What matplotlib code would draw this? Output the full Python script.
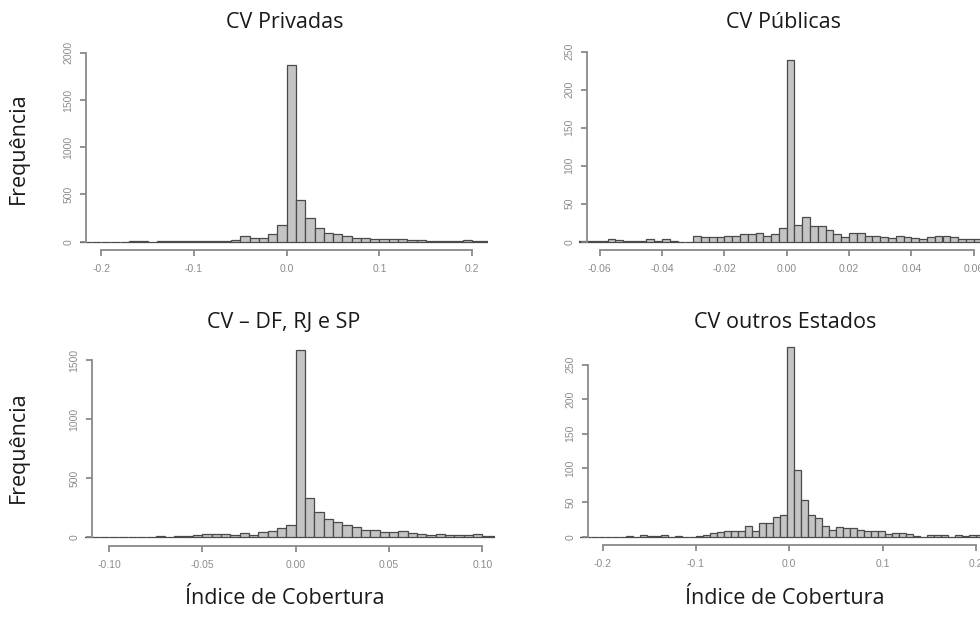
import numpy as np
import matplotlib
matplotlib.use("Agg")
import matplotlib.pyplot as plt

# ---------------- data ----------------
titles = ["CV Privadas", "CV Públicas", "CV – DF, RJ e SP", "CV outros Estados"]
ylabel = "Frequência"
xlabel = "Índice de Cobertura"

# CV Privadas: bins of width 0.01, first left edge -0.23
priv_start, priv_width = -0.23, 0.01
priv_counts = [0, 0, 0, 0, 0, 0, 5, 5, 0, 3, 3, 3, 5, 10, 5, 8, 12, 20, 60, 42, 39, 85,
               173, 1870, 441, 254, 141, 95, 85, 60, 39, 39, 32, 32, 30, 25, 22, 18, 12,
               10, 10, 8, 14, 5, 4]

# CV Públicas: bins of width 0.0025, first left edge -0.0675
pub_start, pub_width = -0.0675, 0.0025
pub_counts = [1, 1, 1, 1, 3, 2, 1, 1, 1, 3, 1, 4, 1, 0, 0, 7, 6, 6, 6, 7, 7, 10, 10, 11,
              8, 10, 18, 239, 22, 33, 21, 21, 15, 10, 6, 11, 11, 7, 8, 6, 5, 8, 6, 5, 3,
              6, 7, 7, 6, 3, 4, 3, 2]

# CV – DF, RJ e SP: bins of width 0.005, first left edge -0.115
dfrs_start, dfrs_width = -0.115, 0.005
dfrs_counts = [0, 0, 1, 1, 2, 3, 5, 5, 8, 5, 8, 14, 17, 31, 25, 25, 17, 33, 17, 47, 53,
               81, 103, 1585, 335, 215, 151, 131, 103, 84, 61, 61, 47, 47, 50, 33, 28, 22,
               31, 17, 17, 20, 28, 14, 15]

# CV outros Estados: bins of width 0.0075, first left edge -0.2275
out_start, out_width = -0.2275, 0.0075
out_counts = [0, 0, 0, 0, 0, 0, 0, 1, 0, 2, 1, 1, 2, 0, 1, 0, 0, 1, 2, 6, 7, 8, 8, 8, 16,
              9, 20, 20, 29, 32, 276, 97, 53, 32, 27, 16, 10, 14, 13, 12, 10, 9, 9, 8, 4,
              5, 6, 4, 1, 0, 2, 2, 2, 0, 2, 1, 2, 2, 1, 1]

xticks = [
    ([-0.2, -0.1, 0.0, 0.1, 0.2], ["-0.2", "-0.1", "0.0", "0.1", "0.2"]),
    ([-0.06, -0.04, -0.02, 0.0, 0.02, 0.04, 0.06], ["-0.06", "-0.04", "-0.02", "0.00", "0.02", "0.04", "0.06"]),
    ([-0.10, -0.05, 0.0, 0.05, 0.10], ["-0.10", "-0.05", "0.00", "0.05", "0.10"]),
    ([-0.2, -0.1, 0.0, 0.1, 0.2], ["-0.2", "-0.1", "0.0", "0.1", "0.2"]),
]
yticks = [
    [0, 500, 1000, 1500, 2000],
    [0, 50, 100, 150, 200, 250],
    [0, 500, 1000, 1500],
    [0, 50, 100, 150, 200, 250],
]

# ---------------- layout (pixel based) ----------------
W, H = 980, 630
fig = plt.figure(figsize=(W / 100, H / 100), dpi=100)

# x pixel of 0, px per unit, xlim, y pixel of 0, px per unit, ytop, yaxis pixel x, xaxis pixel y
layout = [
    (286.7, 927.5, (-0.2226, 0.217), 241.7, 0.0945, 2050, 85.7, 250.0),
    (786.7, 3116.0, (-0.0665, 0.0665), 241.7, 0.760, 262, 586.7, 250.0),
    (295.7, 1867.0, (-0.1129, 0.1067), 537.3, 0.1182, 1620, 91.7, 546.0),
    (789.3, 933.0, (-0.2245, 0.2245), 536.7, 0.688, 286, 587.7, 545.0),
]
data = [
    (priv_start, priv_width, priv_counts),
    (pub_start, pub_width, pub_counts),
    (dfrs_start, dfrs_width, dfrs_counts),
    (out_start, out_width, out_counts),
]

axis_col = "#8a8a8a"
tick_col = "#808080"
bar_face = "#c4c4c4"
bar_edge = "#4a4a4a"
pad_px = 3.0  # a little room below zero so the zero-height bars show as baseline

for i in range(4):
    x0, xs, xlim, y0, ys, ytop, yax_px, xax_px = layout[i]
    left = x0 + xlim[0] * xs
    right = x0 + xlim[1] * xs
    top = y0 - ytop * ys
    bottom = y0 + pad_px
    ybot = -pad_px / ys
    ax = fig.add_axes([left / W, 1 - bottom / H, (right - left) / W, (bottom - top) / H])
    start, width, counts = data[i]
    edges = start + width * np.arange(len(counts))
    ax.bar(edges, counts, width=width, align="edge", color=bar_face,
           edgecolor=bar_edge, linewidth=0.9, clip_on=True)
    ax.set_xlim(*xlim)
    ax.set_ylim(ybot, ytop)
    ax.patch.set_visible(False)
    for s in ["top", "right"]:
        ax.spines[s].set_visible(False)
    ax.spines["left"].set_position(("data", (yax_px - x0) / xs))
    ax.spines["left"].set_bounds(yticks[i][0], yticks[i][-1])
    ax.spines["bottom"].set_position(("outward", (xax_px - bottom) * 0.72))
    ax.spines["bottom"].set_bounds(xticks[i][0][0], xticks[i][0][-1])
    for s in ["left", "bottom"]:
        ax.spines[s].set_color(axis_col)
        ax.spines[s].set_linewidth(1.3)
    ax.set_xticks(xticks[i][0])
    ax.set_xticklabels(xticks[i][1])
    ax.set_yticks(yticks[i])
    ax.set_yticklabels([str(v) for v in yticks[i]], rotation=90, va="center")
    ax.tick_params(axis="both", colors=tick_col, labelcolor="#8c8c8c", labelsize=7.5,
                   length=4, width=1.2, direction="out")
    ax.tick_params(axis="x", pad=6)
    ax.tick_params(axis="y", pad=5)
    for lab in ax.get_xticklabels() + ax.get_yticklabels():
        lab.set_family("Liberation Sans")

title_font = dict(family="Open Sans", fontsize=15.5, color="#1a1a1a")
fig.text(285 / W, 1 - 22 / H, titles[0], ha="center", va="center", **title_font)
fig.text(783 / W, 1 - 22 / H, titles[1], ha="center", va="center", **title_font)
fig.text(284 / W, 1 - 322 / H, titles[2], ha="center", va="center", **title_font)
fig.text(785 / W, 1 - 322 / H, titles[3], ha="center", va="center", **title_font)
fig.text(18 / W, 1 - 148 / H, ylabel, rotation=90, ha="center", va="center", **title_font)
fig.text(18 / W, 1 - 447 / H, ylabel, rotation=90, ha="center", va="center", **title_font)
fig.text(285 / W, 1 - 598 / H, xlabel, ha="center", va="center", **title_font)
fig.text(785 / W, 1 - 598 / H, xlabel, ha="center", va="center", **title_font)

fig.savefig("out.png", dpi=100, facecolor="white")
